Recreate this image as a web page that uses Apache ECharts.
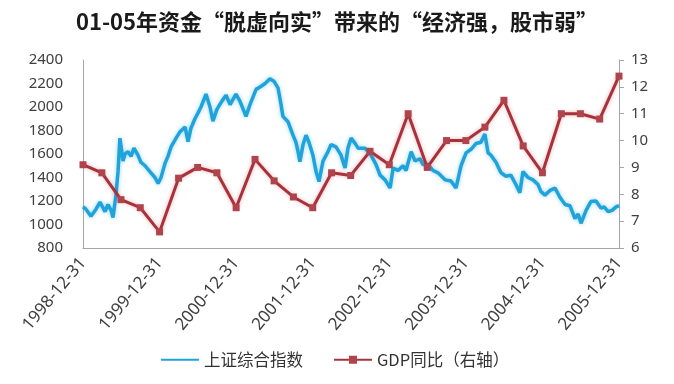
<!DOCTYPE html>
<html>
<head>
<meta charset="utf-8">
<script src="https://cdn.jsdelivr.net/npm/echarts@6/dist/echarts.min.js"></script>
<style>html,body{margin:0;padding:0;background:#fff;}#c{width:674px;height:384px;}</style>
</head>
<body>
<div id="c"></div>
<script>
// ---- Data ----
const titleText = '01-05年资金“脱虚向实”带来的“经济强，股市弱”';
const seriesNames = ['上证综合指数', 'GDP同比（右轴）'];
const xTickLabels = ['1998-12-31','1999-12-31','2000-12-31','2001-12-31','2002-12-31','2003-12-31','2004-12-31','2005-12-31'];

// Shanghai Composite (left axis)
const shDates = ['1998-12-31','1999-01-14','1999-02-07','1999-03-03','1999-03-22','1999-04-15','1999-04-29','1999-05-14','1999-05-23','1999-06-06','1999-06-16','1999-06-25','1999-07-10','1999-07-19','1999-08-03','1999-08-17','1999-08-31','1999-09-19','1999-10-03','1999-10-23','1999-11-15','1999-12-09','1999-12-24',
'2000-01-07','2000-01-26','2000-02-09','2000-02-24','2000-03-19','2000-04-07','2000-05-01','2000-05-15','2000-05-29','2000-06-17','2000-07-02','2000-07-16','2000-08-09','2000-08-28','2000-09-11','2000-09-30','2000-10-24','2000-11-13','2000-12-02','2000-12-30',
'2001-01-18','2001-02-07','2001-02-16','2001-03-07','2001-04-05','2001-04-24','2001-05-18','2001-06-10','2001-06-29','2001-07-19','2001-08-02','2001-08-11','2001-09-04','2001-09-28','2001-10-12','2001-10-22','2001-10-31','2001-11-15','2001-11-29','2001-12-13',
'2002-01-01','2002-01-16','2002-01-30','2002-02-18','2002-03-14','2002-03-28','2002-04-21','2002-05-15','2002-06-03','2002-06-17','2002-07-02','2002-07-21','2002-08-04','2002-09-06','2002-10-05','2002-10-29','2002-11-17','2002-12-11',
'2003-01-04','2003-01-18','2003-02-11','2003-03-06','2003-03-21','2003-04-14','2003-05-03','2003-05-26','2003-06-10','2003-07-04','2003-07-27','2003-08-20','2003-09-23','2003-10-21','2003-11-14','2003-12-08',
'2004-01-01','2004-01-25','2004-02-18','2004-03-12','2004-03-31','2004-04-15','2004-04-29','2004-05-23','2004-06-16','2004-07-10','2004-08-02','2004-08-26','2004-09-14','2004-09-29','2004-10-23','2004-11-16','2004-12-10','2004-12-24',
'2005-01-12','2005-02-05','2005-03-01','2005-03-25','2005-04-18','2005-05-11','2005-06-04','2005-06-19','2005-07-03','2005-07-27','2005-08-19','2005-09-12','2005-10-06','2005-10-21','2005-11-09','2005-11-28','2005-12-17','2005-12-31'];
const shValues = [1150,1130,1070,1130,1190,1110,1170,1120,1060,1250,1450,1735,1540,1600,1620,1580,1650,1590,1530,1500,1450,1400,1350,
1400,1520,1580,1660,1735,1790,1830,1705,1820,1900,1950,2000,2110,2000,1880,1980,2050,2100,2020,2110,
2050,1960,1920,2020,2150,2170,2200,2240,2220,2160,2020,1920,1875,1760,1700,1620,1535,1680,1760,1700,
1590,1450,1365,1540,1620,1680,1660,1590,1480,1650,1735,1690,1650,1650,1590,1510,1420,1380,
1310,1480,1460,1500,1460,1620,1540,1560,1510,1510,1460,1440,1380,1370,1310,1500,
1610,1640,1690,1700,1770,1610,1590,1530,1440,1410,1420,1340,1270,1450,1400,1380,1340,1280,
1250,1290,1310,1230,1170,1160,1050,1090,1010,1120,1195,1200,1140,1150,1110,1120,1150,1160];

// GDP YoY (right axis), quarterly
const gdpDates = ['1998-12-31','1999-03-31','1999-06-30','1999-09-30','1999-12-31','2000-03-31','2000-06-30','2000-09-30','2000-12-31','2001-03-31','2001-06-30','2001-09-30','2001-12-31','2002-03-31','2002-06-30','2002-09-30','2002-12-31','2003-03-31','2003-06-30','2003-09-30','2003-12-31','2004-03-31','2004-06-30','2004-09-30','2004-12-31','2005-03-31','2005-06-30','2005-09-30','2005-12-31'];
const gdpValues = [9.1,8.8,7.8,7.5,6.6,8.6,9.0,8.8,7.5,9.3,8.5,7.9,7.5,8.8,8.7,9.6,9.1,11.0,9.0,10.0,10.0,10.5,11.5,9.8,8.8,11.0,11.0,10.8,12.4];

// date string -> fractional year position (YYYY-12-31 maps to YYYY+1)
function toX(s) {
  const p = s.split('-').map(Number);
  const y = p[0];
  const start = Date.UTC(y, 0, 0);
  const doy = (Date.UTC(y, p[1] - 1, p[2]) - start) / 86400000;
  const diy = (Date.UTC(y + 1, 0, 0) - start) / 86400000;
  return y + doy / diy;
}

const shData = shDates.map((d, i) => [toX(d), shValues[i]]);
const gdpData = gdpDates.map((d, i) => [toX(d), gdpValues[i]]);

const blue = '#20a2da';
const red = '#a8323a';
const font = "'Noto Sans', 'Noto Sans CJK SC', sans-serif";

const chart = echarts.init(document.getElementById('c'), null, {renderer: 'canvas'});
chart.setOption({
  animation: false,
  backgroundColor: '#fff',
  title: {
    text: titleText,
    left: 'center',
    top: 6,
    textStyle: {fontFamily: "'Noto Sans CJK SC', sans-serif", fontWeight: 'bold', fontSize: 22, color: '#1a1a1a'}
  },
  legend: {
    left: 155,
    bottom: 11,
    itemGap: 30,
    itemWidth: 38,
    itemHeight: 10,
    textStyle: {fontFamily: "'Noto Sans CJK SC', sans-serif", fontSize: 16.5, color: '#333'},
    data: [{name: seriesNames[0], itemStyle: {opacity: 0}}, {name: seriesNames[1]}]
  },
  grid: {left: 83, right: 55, top: 60, bottom: 136, containLabel: false},
  xAxis: {
    type: 'value',
    min: 1999, max: 2006, interval: 1,
    splitLine: {show: false},
    axisLine: {show: true, lineStyle: {color: '#a6a6a6', width: 1}},
    axisTick: {show: false},
    axisLabel: {
      rotate: 50, margin: 12, fontSize: 17, color: '#404040', fontFamily: font,
      formatter: v => xTickLabels[Math.round(v - 1999)] || ''
    }
  },
  yAxis: [{
    type: 'value', min: 800, max: 2400, interval: 200,
    splitLine: {show: false},
    axisLine: {show: true, lineStyle: {color: '#a6a6a6'}},
    axisTick: {show: false},
    axisLabel: {margin: 20, fontSize: 15, color: '#404040', fontFamily: font, formatter: v => String(v)}
  }, {
    type: 'value', min: 6, max: 13, interval: 1, position: 'right',
    splitLine: {show: false},
    axisLine: {show: true, lineStyle: {color: '#a6a6a6'}},
    axisTick: {show: true, length: 5, lineStyle: {color: '#a6a6a6'}},
    axisLabel: {margin: 12, fontSize: 15, color: '#404040', fontFamily: font}
  }],
  series: [{
    name: seriesNames[0],
    type: 'line',
    yAxisIndex: 0,
    data: shData,
    symbol: 'none',
    lineStyle: {color: blue, width: 3.5, shadowColor: 'rgba(32,162,218,0.45)', shadowBlur: 4},
    itemStyle: {color: blue},
    z: 2
  }, {
    name: seriesNames[1],
    type: 'line',
    yAxisIndex: 1,
    data: gdpData,
    symbol: 'rect',
    symbolSize: 7,
    lineStyle: {color: red, width: 3, shadowColor: 'rgba(200,60,70,0.4)', shadowBlur: 4},
    itemStyle: {color: '#b0444c'},
    z: 3
  }]
});
</script>
</body>
</html>
